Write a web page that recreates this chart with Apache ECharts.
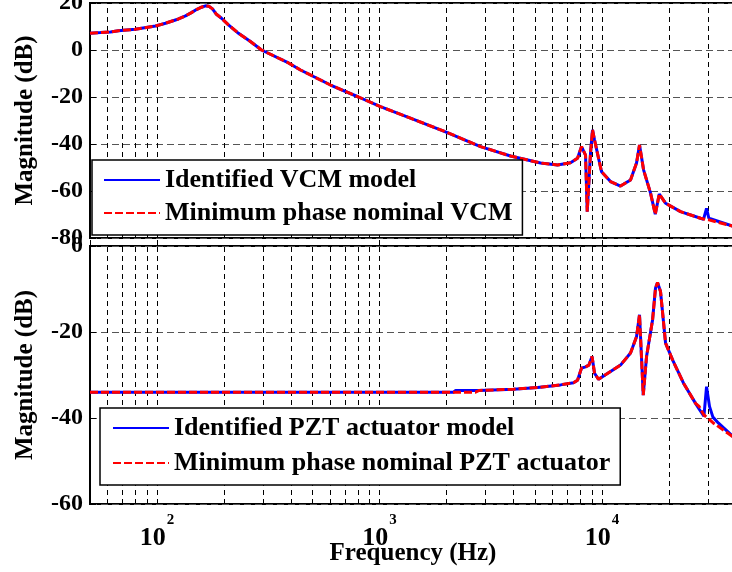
<!DOCTYPE html>
<html><head><meta charset="utf-8">
<script src="https://cdn.jsdelivr.net/npm/echarts@6/dist/echarts.min.js"></script>
<style>html,body{margin:0;padding:0;background:#fff}#c{width:732px;height:572px}</style>
</head><body><div id="c"></div>
<script>
// ---- data ----
const vcmFreq = [50, 55.7, 61.8, 67.1, 79.8, 98.5, 109.2, 124.9, 134.3, 142.9,
  150.5, 158.5, 165.2, 171, 177.6, 185, 195, 209.5, 232.4, 263,
  294.9, 390, 441.6, 602.3, 804.4, 1010, 1377, 1980,
  2844, 3880, 5292, 6310, 7218, 7761, 8088, 8431, 8580, 8878,
  9064, 9254, 9949, 10920, 12110, 13430, 14290, 14740, 15370, 16520,
  17350, 18080, 19300, 22530, 27720, 28600, 29490, 30200, 30740, 38590, 40000];
const vcmIdentified = [7.1, 7.4, 7.7, 8.2, 8.8, 10.2, 11.4, 13.2, 14.5, 15.9,
  17.2, 18.2, 18.8, 18.6, 17.5, 15.2, 13.5, 10.7, 7.1, 3.6,
  0, -5.5, -8.5, -14.9, -20, -24.1, -29, -34.8,
  -41.1, -45.1, -48.1, -48.9, -48, -46.1, -41.1, -44.7, -68.8, -43.8,
  -34, -38.3, -51.8, -56, -57.9, -55.3, -48.1, -40.4, -51, -60.9,
  -69.9, -61.3, -65.2, -68.8, -71.6, -72.0, -67.4, -71.6, -72.3, -74.9, -75.3];
const vcmNominal = [7.1, 7.4, 7.7, 8.2, 8.8, 10.2, 11.4, 13.2, 14.5, 15.9,
  17.2, 18.2, 18.8, 18.6, 17.5, 15.2, 13.5, 10.7, 7.1, 3.6,
  0, -5.5, -8.5, -14.9, -20, -24.1, -29, -34.8,
  -41.1, -45.1, -48.1, -48.9, -48, -46.1, -41.1, -44.7, -68.8, -43.8,
  -34, -38.3, -51.8, -56, -57.9, -55.3, -48.1, -40.4, -51, -60.9,
  -69.9, -61.3, -65.2, -68.8, -71.6, -71.9, -72.1, -72.3, -72.4, -74.9, -75.3];

const pztFreq = [50, 2150, 2200, 2700, 2800, 4001, 5131, 6509, 7446, 7761,
  8088, 8431, 8733, 9018, 9254, 9645, 10920, 12110, 13430, 14290,
  14740, 15320, 15850, 16870, 17390, 17760, 18320, 19300, 20750, 23240,
  26320, 27300, 28700, 29490, 30410, 31500, 33390, 38590, 40000];
const pztIdentified = [-34, -34, -33.6, -33.6, -33.6, -33.3, -32.9, -32.3, -31.8, -31.2,
  -28.4, -28.1, -27.7, -25.7, -29.6, -31, -29.2, -27.7, -24.9, -21.1,
  -16, -34.7, -25.7, -17.2, -9.8, -8.5, -10.6, -22.6, -26.5, -31.9,
  -36.6, -37.9, -39.6, -32.7, -37.3, -39.8, -41.2, -44.2, -44.6];
const pztNominal = [-34, -34, -34, -34, -33.6, -33.3, -32.9, -32.3, -31.8, -31.2,
  -28.4, -28.1, -27.7, -25.7, -29.6, -31, -29.2, -27.7, -24.9, -21.1,
  -16, -34.7, -25.7, -17.2, -9.8, -8.5, -10.6, -22.6, -26.5, -31.9,
  -36.6, -37.3, -39.3, -39.8, -40.4, -41.1, -42, -44.3, -44.7];

const xGridLines = [60, 70, 80, 90, 100, 200, 300, 400, 500, 600, 700, 800, 900,
  1000, 2000, 3000, 4000, 5000, 6000, 7000, 8000, 9000, 10000, 20000, 30000];
const xLabelExponents = [2, 3, 4];
const seriesNames = ['Identified VCM model', 'Minimum phase nominal VCM',
  'Identified PZT actuator model', 'Minimum phase nominal PZT actuator'];

// ---- chart ----
const zip = (xs, ys) => xs.map((x, i) => [x, ys[i]]);
const FONT = 'Liberation Serif';
const chart = echarts.init(document.getElementById('c'), null, {renderer: 'canvas'});

function xAxis(gridIndex, showLabels) {
  return {
    type: 'log', logBase: 10, gridIndex, min: 50, max: 40000,
    axisLine: {show: false},
    axisTick: {show: true, inside: true, length: 6, lineStyle: {color: '#000', width: 1}},
    splitLine: {show: false},
    axisLabel: {
      show: showLabels, margin: 9,
      formatter: v => {
        const e = Math.log10(v), r = Math.round(e);
        if (Math.abs(e - r) < 1e-6 && xLabelExponents.includes(r)) return '{b|10}{s|' + r + '}';
        return '';
      },
      rich: {
        b: {fontFamily: FONT, fontWeight: 'bold', fontSize: 26, color: '#000', verticalAlign: 'bottom', lineHeight: 38},
        s: {fontFamily: FONT, fontWeight: 'bold', fontSize: 15, color: '#000', verticalAlign: 'top', lineHeight: 38, padding: [0, 0, 0, 1]}
      }
    },
    name: showLabels ? 'Frequency (Hz)' : '',
    nameLocation: 'middle', nameGap: 37, nameMoveOverlap: false,
    nameTextStyle: {fontFamily: FONT, fontWeight: 'bold', fontSize: 25, color: '#000'}
  };
}
function yAxis(gridIndex, min, max) {
  return {
    type: 'value', gridIndex, min, max, interval: 20,
    axisLine: {show: false},
    axisTick: {show: true, inside: true, length: 6, lineStyle: {color: '#000', width: 1}},
    splitLine: {show: true, lineStyle: {color: '#555', width: 1, type: [7, 4]}},
    axisLabel: {fontFamily: FONT, fontWeight: 'bold', fontSize: 24, color: '#000', margin: 7},
    name: 'Magnitude (dB)', nameLocation: 'middle', nameGap: 52, nameRotate: 90, nameMoveOverlap: false,
    nameTextStyle: {fontFamily: FONT, fontWeight: 'bold', fontSize: 25, color: '#000'}
  };
}
function gridSeries(idx) {
  return {
    type: 'line', xAxisIndex: idx, yAxisIndex: idx, data: [], z: 1, silent: true,
    markLine: {
      z: 1, silent: true, symbol: ['none', 'none'], label: {show: false}, animation: false,
      lineStyle: {color: '#000', width: 1, type: [5, 4]},
      emphasis: {disabled: true},
      data: xGridLines.map(v => ({xAxis: v}))
    }
  };
}
function curve(idx, name, xs, ys, color, dashed, z) {
  return {
    type: 'line', name, xAxisIndex: idx, yAxisIndex: idx, data: zip(xs, ys),
    symbol: 'none', showSymbol: false, z, clip: true,
    lineStyle: {color, width: 3, type: dashed ? [8, 3] : 'solid'},
    itemStyle: {color}
  };
}
const legendBase = {
  orient: 'vertical', selectedMode: false, z: 20,
  backgroundColor: '#fff', borderColor: '#000', borderWidth: 1.5, borderRadius: 0,
  itemWidth: 56, itemHeight: 14,
  itemStyle: {opacity: 0, borderWidth: 0},
  textStyle: {fontFamily: FONT, fontWeight: 'bold', fontSize: 26, color: '#000'}
};

chart.setOption({
  animation: false,
  backgroundColor: '#fff',
  grid: [
    {left: 90, right: -4, top: 3, height: 235, show: true, borderColor: '#000', borderWidth: 2, outerBoundsMode: 'none'},
    {left: 90, right: -4, top: 246, height: 258, show: true, borderColor: '#000', borderWidth: 2, outerBoundsMode: 'none'}
  ],
  xAxis: [xAxis(0, false), xAxis(1, true)],
  yAxis: [yAxis(0, -80, 20), yAxis(1, -60, 0)],
  legend: [
    Object.assign({}, legendBase, {left: 92, top: 160, padding: [7, 10, 9, 11], itemGap: 7,
      data: [seriesNames[0], seriesNames[1]]}),
    Object.assign({}, legendBase, {left: 100, top: 408, padding: [7, 10, 9, 12], itemGap: 9,
      data: [seriesNames[2], seriesNames[3]]})
  ],
  series: [
    gridSeries(0), gridSeries(1),
    curve(0, seriesNames[0], vcmFreq, vcmIdentified, '#0000ff', false, 3),
    curve(0, seriesNames[1], vcmFreq, vcmNominal, '#ff0000', true, 4),
    curve(1, seriesNames[2], pztFreq, pztIdentified, '#0000ff', false, 3),
    curve(1, seriesNames[3], pztFreq, pztNominal, '#ff0000', true, 4)
  ]
});
</script></body></html>
